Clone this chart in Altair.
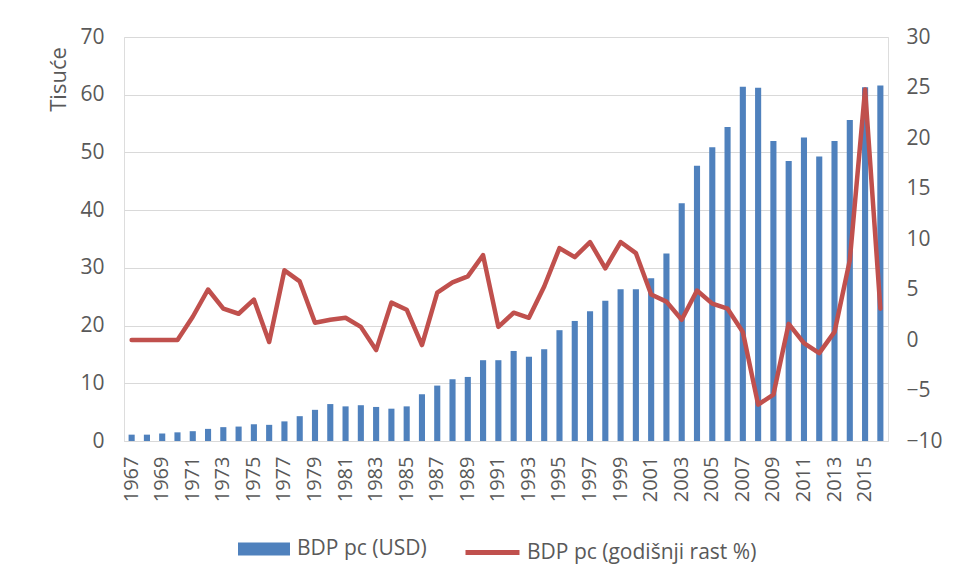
import altair as alt
import pandas as pd

years = [1967, 1968, 1969, 1970, 1971, 1972, 1973, 1974, 1975, 1976,
         1977, 1978, 1979, 1980, 1981, 1982, 1983, 1984, 1985, 1986,
         1987, 1988, 1989, 1990, 1991, 1992, 1993, 1994, 1995, 1996,
         1997, 1998, 1999, 2000, 2001, 2002, 2003, 2004, 2005, 2006,
         2007, 2008, 2009, 2010, 2011, 2012, 2013, 2014, 2015, 2016]

gdp_pc_thousands = [1.1, 1.1, 1.3, 1.5, 1.7, 2.1, 2.4, 2.5, 2.9, 2.8,
                    3.4, 4.3, 5.4, 6.4, 6.0, 6.2, 5.9, 5.6, 6.0, 8.1,
                    9.6, 10.7, 11.1, 14.0, 14.0, 15.6, 14.6, 15.9, 19.2, 20.8,
                    22.5, 24.3, 26.3, 26.3, 28.2, 32.5, 41.2, 47.7, 50.9, 54.4,
                    61.4, 61.2, 52.0, 48.5, 52.6, 49.3, 52.0, 55.6, 61.3, 61.6]

growth_pct = [0.0, 0.0, 0.0, 0.0, 2.3, 5.0, 3.1, 2.6, 4.0, -0.2,
              6.9, 5.8, 1.7, 2.0, 2.2, 1.3, -1.0, 3.7, 3.0, -0.5,
              4.7, 5.7, 6.3, 8.4, 1.3, 2.7, 2.2, 5.3, 9.1, 8.2,
              9.7, 7.1, 9.7, 8.6, 4.5, 3.8, 2.0, 4.9, 3.6, 3.1,
              0.8, -6.4, -5.4, 1.6, -0.3, -1.3, 0.8, 7.9, 24.8, 3.1]

bar_name = "BDP pc (USD)"
line_name = "BDP pc (godišnji rast %)"

left_ticks = [0, 10, 20, 30, 40, 50, 60, 70]
right_ticks = [-10, -5, 0, 5, 10, 15, 20, 25, 30]

df = pd.DataFrame({
    "year": [str(y) for y in years],
    "gdp": gdp_pc_thousands,
    "growth": growth_pct,
    "s1": bar_name,
    "s2": line_name,
})

FONT = "Open Sans"
GREY = "#595959"

x_enc = alt.X(
    "year:O",
    scale=alt.Scale(paddingInner=0.6, paddingOuter=0.3),
    axis=alt.Axis(
        title=None,
        labelAngle=-90,
        labelExpr="toNumber(datum.value) % 2 == 1 ? datum.label : ''",
        labelFontSize=20,
        labelColor=GREY,
        labelFont=FONT,
        labelPadding=15,
        ticks=False,
        domainColor="#D9D9D9",
        domainWidth=1,
        grid=False,
    ),
)

bars = alt.Chart(df).mark_bar(color="#4F81BD").encode(
    x=x_enc,
    y=alt.Y(
        "gdp:Q",
        scale=alt.Scale(domain=[0, 70], nice=False),
        axis=alt.Axis(
            values=left_ticks,
            title="Tisuće",
            titleFontSize=22,
            titleFontWeight="normal",
            titleColor=GREY,
            titleFont=FONT,
            titleAngle=-90,
            titleX=-66,
            titleY=42,
            titleAlign="center",
            titleBaseline="middle",
            labelFontSize=21,
            labelColor=GREY,
            labelFont=FONT,
            labelPadding=20,
            ticks=False,
            domain=False,
            grid=True,
            gridColor="#D9D9D9",
            gridWidth=1,
        ),
    ),
    color=alt.Color(
        "s1:N",
        scale=alt.Scale(range=["#4F81BD"]),
        legend=alt.Legend(
            title=None,
            orient="none",
            legendX=114,
            legendY=486,
            symbolType="M-1,-0.25H1V0.25H-1Z",
            symbolSize=2704,
            symbolStrokeWidth=0,
            symbolOpacity=1,
            labelFontSize=21,
            labelColor=GREY,
            labelFont=FONT,
            labelOffset=7,
            labelLimit=400,
            padding=0,
        ),
    ),
)

line = alt.Chart(df).mark_line(
    strokeWidth=4.5, strokeCap="round", strokeJoin="round"
).encode(
    x=x_enc,
    y=alt.Y(
        "growth:Q",
        scale=alt.Scale(domain=[-10, 30], nice=False),
        axis=alt.Axis(
            orient="right",
            values=right_ticks,
            title=None,
            labelFontSize=21,
            labelColor=GREY,
            labelFont=FONT,
            labelPadding=18,
            ticks=False,
            domain=False,
            grid=False,
        ),
    ),
    stroke=alt.Stroke(
        "s2:N",
        scale=alt.Scale(range=["#C0504D"]),
        legend=alt.Legend(
            title=None,
            orient="none",
            legendX=339,
            legendY=486,
            symbolType="stroke",
            symbolSize=2916,
            symbolStrokeWidth=5,
            labelFontSize=21,
            labelColor=GREY,
            labelFont=FONT,
            labelOffset=5,
            labelLimit=400,
            padding=0,
        ),
    ),
)

chart = alt.layer(bars, line).resolve_scale(
    y="independent", color="independent", stroke="independent"
).properties(
    width=764,
    height=404,
    autosize=alt.AutoSizeParams(type="none"),
    padding={"left": 116, "top": 29, "right": 56, "bottom": 132},
).configure_view(stroke=None).configure(background="white")

chart.save("out.html", embed_options={"renderer": "svg", "actions": False})
